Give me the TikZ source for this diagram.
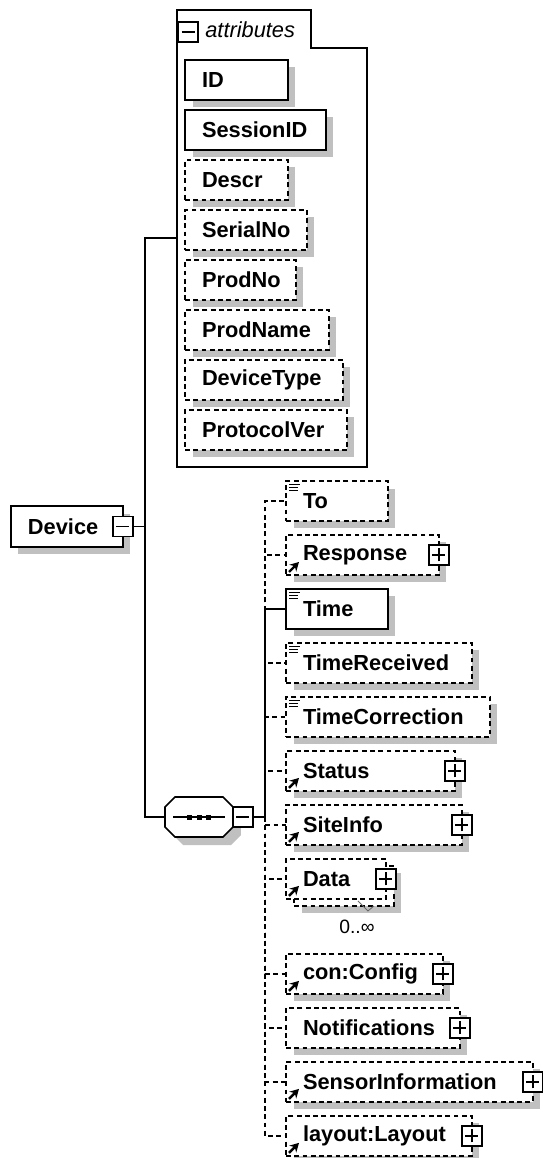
\documentclass[tikz,border=0pt]{standalone}
\usepackage{fontspec}
\setmainfont{Liberation Sans}
\usetikzlibrary{positioning, calc, shadows, arrows.meta}

\definecolor{boxshadow}{RGB}{192,192,192}

% small marks inside the element boxes
\newcommand{\contenticon}[1]{%
  \draw[line width=0.6pt] ($(#1.north west)+(3,3.5)$) -- ++(11,0)
    ($(#1.north west)+(3,6.5)$) -- ++(9,0)
    ($(#1.north west)+(3,9.5)$) -- ++(9,0);}
\newcommand{\reficon}[1]{%
  \draw[line width=1.4pt, -{Stealth[length=5pt,width=5.5pt]}]
    ($(#1.south west)+(3,-3)$) -- ++(10,-10);}
% octagon of the sequence compositor, shifted by #1 px
\newcommand{\seqoutline}[2]{%
  \path[#2] ($(Seq.north west)+(10+#1,#1)$) -- ($(Seq.north east)+(-10+#1,#1)$)
    -- ($(Seq.north east)+(#1,10+#1)$) -- ($(Seq.south east)+(#1,-10+#1)$)
    -- ($(Seq.south east)+(-10+#1,#1)$) -- ($(Seq.south west)+(10+#1,#1)$)
    -- ($(Seq.south west)+(#1,-10+#1)$) -- ($(Seq.north west)+(#1,10+#1)$) -- cycle;}

\begin{document}
\begin{tikzpicture}[
  x=0.02cm, y=-0.02cm,
  elemfont/.style={font=\fontsize{12.4}{14}\selectfont\bfseries},
  elembox/.style={
    draw, fill=white, line width=0.9pt, elemfont,
    minimum height=0.8cm, inner xsep=0.34cm, inner ysep=0pt, outer sep=0pt,
    text width=#1, align=left, anchor=north west,
  },
  boxshade/.style={
    drop shadow={shadow xshift=0.15cm, shadow yshift=-0.15cm,
      fill=boxshadow, draw=none, opacity=1},
  },
  elem/.style={elembox=#1, boxshade},
  dashedline/.style={dash pattern=on 2.8pt off 1.9pt},
  optelem/.style={elem=#1, dashedline},
  conn/.style={line width=0.9pt},
  togglebox/.style={
    draw, fill=white, line width=0.8pt, minimum size=0.4cm, inner sep=0pt, outer sep=0pt,
  },
  minusbox/.style={togglebox, path picture={
    \draw[line width=0.8pt] ([xshift=-1.3mm]path picture bounding box.center)
      -- ([xshift=1.3mm]path picture bounding box.center);}},
  plusbox/.style={togglebox, path picture={
    \draw[line width=0.8pt] ([xshift=-1.3mm]path picture bounding box.center)
      -- ([xshift=1.3mm]path picture bounding box.center)
      ([yshift=-1.3mm]path picture bounding box.center)
      -- ([yshift=1.3mm]path picture bounding box.center);}},
]
\useasboundingbox (0,0) rectangle (543,1158);

% --- attributes group ---
\draw[line width=0.9pt] (177,10) -- (311,10) -- (311,48) -- (367,48)
  -- (367,467) -- (177,467) -- cycle;
\coordinate (AttrIn) at (177,238);
\node[minusbox] (AttrMinus) at (188,32) {};
\node[font=\fontsize{12.4}{14}\selectfont\itshape, anchor=west, inner sep=0pt]
  (AttrTitle) at (205,30) {attributes};

\node[elem=1.38cm] (ID) at (185,60) {ID};
\node[elem=2.14cm, below=0.2cm of ID.south west, anchor=north west] (SessionID) {SessionID};
\node[optelem=1.38cm, below=0.2cm of SessionID.south west, anchor=north west] (Descr) {Descr};
\node[optelem=1.76cm, below=0.2cm of Descr.south west, anchor=north west] (SerialNo) {SerialNo};
\node[optelem=1.54cm, below=0.2cm of SerialNo.south west, anchor=north west] (ProdNo) {ProdNo};
\node[optelem=2.20cm, below=0.2cm of ProdNo.south west, anchor=north west] (ProdName) {ProdName};
\node[optelem=2.48cm, below=0.2cm of ProdName.south west, anchor=north west] (DeviceType) {DeviceType};
\node[optelem=2.56cm, below=0.2cm of DeviceType.south west, anchor=north west] (ProtocolVer) {ProtocolVer};

% --- Device ---
\node[elem=1.56cm, minimum height=0.82cm] (Device) at (11,506) {Device};
\node[minusbox] (DevMinus) at (Device.east) {};
\coordinate (DevBranch) at ($(DevMinus.east)+(12,0)$);

% --- sequence ---
\node[minimum width=1.36cm, minimum height=0.8cm, inner sep=0pt, outer sep=0pt]
  (Seq) at (199,817) {};
\seqoutline{8}{fill=boxshadow}
\seqoutline{0}{draw, fill=white, line width=0.9pt}
\draw[line width=0.9pt] ($(Seq.center)+(-26,0)$) -- ($(Seq.center)+(26,0)$);
\fill ($(Seq.center)+(-12,-2.5)$) rectangle ++(5,5);
\fill ($(Seq.center)+(-2.5,-2.5)$) rectangle ++(5,5);
\fill ($(Seq.center)+(7,-2.5)$) rectangle ++(5,5);
\node[minusbox, anchor=west] (SeqMinus) at (Seq.east) {};
\coordinate (SeqBranch) at ($(SeqMinus.east)+(12,0)$);

% --- children ---
\node[optelem=1.36cm] (To) at (286,481) {To};
\node[optelem=2.38cm, below=0.28cm of To.south west, anchor=north west] (Response) {Response};
\node[elem=1.36cm, below=0.28cm of Response.south west, anchor=north west] (Time) {Time};
\node[optelem=3.04cm, below=0.28cm of Time.south west, anchor=north west] (TimeReceived) {TimeReceived};
\node[optelem=3.40cm, below=0.28cm of TimeReceived.south west, anchor=north west] (TimeCorrection) {TimeCorrection};
\node[optelem=2.70cm, below=0.28cm of TimeCorrection.south west, anchor=north west] (Status) {Status};
\node[optelem=2.84cm, below=0.28cm of Status.south west, anchor=north west] (SiteInfo) {SiteInfo};
\coordinate[below=0.28cm of SiteInfo.south west] (DataNW);
\node[optelem=1.32cm] (DataBack) at ($(DataNW)+(8,7)$) {};
\node[elembox=1.32cm, dashedline] (Data) at (DataNW) {Data};
\node[optelem=2.46cm, below=1.1cm of Data.south west, anchor=north west] (Config) {con:Config};
\node[optelem=2.80cm, below=0.28cm of Config.south west, anchor=north west] (Notifications) {Notifications};
\node[optelem=4.26cm, below=0.28cm of Notifications.south west, anchor=north west] (SensorInformation) {SensorInformation};
\node[optelem=3.04cm, below=0.28cm of SensorInformation.south west, anchor=north west] (Layout) {layout:Layout};

\node[plusbox] (ResponsePlus) at (Response.east) {};
\node[plusbox] (StatusPlus) at (Status.east) {};
\node[plusbox] (SiteInfoPlus) at (SiteInfo.east) {};
\node[plusbox] (DataPlus) at (Data.east) {};
\node[plusbox] (ConfigPlus) at (Config.east) {};
\node[plusbox] (NotificationsPlus) at (Notifications.east) {};
\node[plusbox] (SensorInformationPlus) at (SensorInformation.east) {};
\node[plusbox] (LayoutPlus) at (Layout.east) {};

\contenticon{To}
\contenticon{Time}
\contenticon{TimeReceived}
\contenticon{TimeCorrection}
\reficon{Response}
\reficon{Status}
\reficon{SiteInfo}
\reficon{Data}
\reficon{Config}
\reficon{SensorInformation}
\reficon{Layout}

% occurrence of Data
\draw[line width=0.5pt, black!60] ($(DataBack.south east)+(-36,-5)$) -- ++(10,10) -- ++(6,-5);
\node[font=\fontsize{11}{13}\selectfont, anchor=north, inner sep=0pt]
  (DataOcc) at ($(DataBack.south east)+(-37,14)$) {0..∞};

% --- connectors ---
\draw[conn] (DevMinus.east) -- (DevBranch);
\draw[conn] (DevBranch) |- (AttrIn);
\draw[conn] (DevBranch) |- (Seq.west);
\draw[conn] (SeqMinus.east) -- (SeqBranch);
\draw[conn, dashedline] (SeqBranch) |- (To.west);
\draw[conn, dashedline] (SeqBranch) |- (Response.west);
\draw[conn, dashedline] (SeqBranch) |- (TimeReceived.west);
\draw[conn, dashedline] (SeqBranch) |- (TimeCorrection.west);
\draw[conn, dashedline] (SeqBranch) |- (Status.west);
\draw[conn, dashedline] (SeqBranch) |- (SiteInfo.west);
\draw[conn, dashedline] (SeqBranch) |- (Data.west);
\draw[conn, dashedline] (SeqBranch) |- (Config.west);
\draw[conn, dashedline] (SeqBranch) |- (Notifications.west);
\draw[conn, dashedline] (SeqBranch) |- (SensorInformation.west);
\draw[conn, dashedline] (SeqBranch) |- (Layout.west);
\draw[conn] (SeqBranch) |- (Time.west);
\end{tikzpicture}
\end{document}
